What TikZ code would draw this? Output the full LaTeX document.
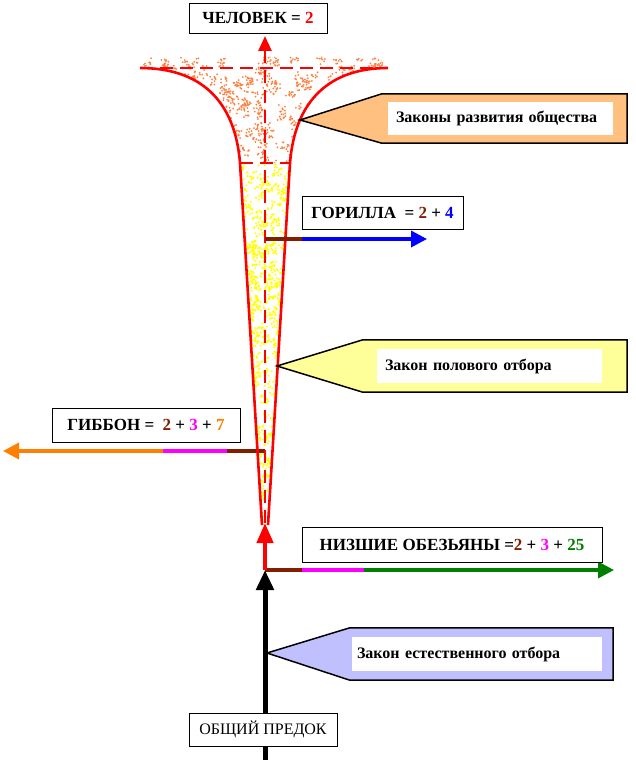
\documentclass[tikz,border=0pt]{standalone}
\usepackage{fontspec}
\setmainfont{Liberation Serif}
\usetikzlibrary{arrows.meta,calc}
\definecolor{stemBrown}{HTML}{802000}
\definecolor{branchMagenta}{HTML}{FF00FF}
\definecolor{branchGreen}{HTML}{008000}
\definecolor{branchBlue}{HTML}{0000FF}
\definecolor{branchOrange}{HTML}{FF8000}
\definecolor{speckOrange}{HTML}{FF8040}
\definecolor{speckYellow}{HTML}{FFFF00}
\definecolor{calloutOrange}{HTML}{FFC080}
\definecolor{calloutYellow}{HTML}{FFFF99}
\definecolor{calloutLilac}{HTML}{C0C0FF}
\tikzset{
    labelbox/.style={draw=black,fill=white,line width=0.9pt,inner sep=0pt,
        align=center,font=\bfseries\fontsize{17}{19}\selectfont},
    lawtext/.style={fill=white,inner xsep=8pt,inner ysep=0pt,align=left,
        font=\bfseries\fontsize{16}{18}\selectfont},
    lawframe/.style={inner sep=0pt},
    callout/.style={draw=black,line width=1.5pt,line join=miter},
    funnelline/.style={draw=red,line width=2.6pt},
    funneldash/.style={draw=red,line width=2.6pt,dash pattern=on 13pt off 7pt},
    branch/.style={line width=3.5pt},
    branchtip/.style={-{Triangle[length=16pt,width=16pt]}}
}
\begin{document}
\begin{tikzpicture}[x=1pt,y=-1pt]
    \useasboundingbox (0,0) rectangle (635,760);
    % axis points
    \coordinate (base) at (265,760);
    \coordinate (fork) at (265,570);
    \coordinate (conetip) at (265,523);
    \coordinate (top) at (265,36);
    \coordinate (funnelL) at (140,68);
    \coordinate (funnelR) at (388,68);
    \coordinate (neckL) at (240,163);
    \coordinate (neckR) at (290,163);
    \coordinate (coneL) at (262,525);
    \coordinate (coneR) at (268,525);
    % speckles
    \pgfmathsetseed{11}
    \begin{scope}
        \clip (funnelL) -- (150,57) -- (378,57) -- (funnelR)
            .. controls (330,68) and (295,100) .. (neckR) -- (neckL)
            .. controls (235,100) and (200,68) .. (funnelL);
        \foreach \i in {1,...,320} {
            \pgfmathsetmacro\cx{140+248*rnd}
            \pgfmathsetmacro\cy{57+106*rnd}
            \foreach \j in {1,...,6}
                \fill[speckOrange] (\cx+4*rand,\cy+4*rand) circle (1pt);
        }
    \end{scope}
    \begin{scope}
        \clip (neckL) -- (neckR) -- (coneR) -- (coneL) -- cycle;
        \foreach \i in {1,...,320} {
            \pgfmathsetmacro\cx{238+54*rnd}
            \pgfmathsetmacro\cy{163+362*rnd}
            \foreach \j in {1,...,6}
                \fill[speckYellow] (\cx+4*rand,\cy+4*rand) circle (1.1pt);
        }
    \end{scope}
    % gibbon branch (under the cone)
    \coordinate (gibbonfork) at (265,451);
    \coordinate (gibbonA) at (227,451);
    \coordinate (gibbonB) at (163,451);
    \coordinate (gibbonend) at (3,451);
    \draw[branch,stemBrown] (gibbonfork) -- (gibbonA);
    \draw[branch,branchMagenta] (gibbonA) -- (gibbonB);
    \draw[branch,branchOrange,branchtip] (gibbonB) -- (gibbonend);
    % funnel and cone
    \draw[funnelline] (funnelL) .. controls (200,68) and (235,100) .. (neckL);
    \draw[funnelline] (funnelR) .. controls (330,68) and (295,100) .. (neckR);
    \draw[funneldash] (funnelL) -- (funnelR);
    \draw[funneldash] (neckL) -- (neckR);
    \draw[funnelline] (neckL) -- (coneL);
    \draw[funnelline] (neckR) -- (coneR);
    \draw[funneldash,-{Triangle[length=15pt,width=13pt]}] (conetip) -- (top);
    % gorilla branch
    \coordinate (gorillafork) at (265,239);
    \coordinate (gorillaA) at (302,239);
    \coordinate (gorillaend) at (427,239);
    \draw[branch,stemBrown] (gorillafork) -- (gorillaA);
    \draw[branch,branchBlue,branchtip] (gorillaA) -- (gorillaend);
    % lower monkeys branch
    \coordinate (lowA) at (302,570);
    \coordinate (lowB) at (364,570);
    \coordinate (lowend) at (614,570);
    \draw[branch,stemBrown] (fork) -- (lowA);
    \draw[branch,branchMagenta] (lowA) -- (lowB);
    \draw[branch,branchGreen,branchtip] (lowB) -- (lowend);
    % stem
    \draw[line width=4.5pt,red,-{Triangle[length=20pt,width=16pt]}] (fork) -- (conetip);
    \draw[line width=5pt,black,-{Triangle[length=20pt,width=17pt]}] (base) -- (fork);
    % labels
    \node[labelbox,minimum width=138pt,minimum height=30pt] (man) at (258,18)
        {ЧЕЛОВЕК = \textcolor{red}{2}};
    \node[labelbox,minimum width=161pt,minimum height=33pt] (gorilla) at (382.5,212.5)
        {ГОРИЛЛА~~= \textcolor{stemBrown}{2} + \textcolor{branchBlue}{4}};
    \node[labelbox,minimum width=188pt,minimum height=34pt] (gibbon) at (146,425)
        {ГИББОН = ~\textcolor{stemBrown}{2} + \textcolor{branchMagenta}{3} + \textcolor{branchOrange}{7}};
    \node[labelbox,minimum width=300pt,minimum height=35pt] (lowmonkeys) at (452,544.5)
        {НИЗШИЕ ОБЕЗЬЯНЫ =\textcolor{stemBrown}{2} + \textcolor{branchMagenta}{3} + \textcolor{branchGreen}{25}};
    \node[labelbox,font=\fontsize{16}{18}\selectfont,minimum width=148pt,minimum height=33pt]
        (ancestor) at (263,729.5) {ОБЩИЙ ПРЕДОК};
    % callouts
    \coordinate (societytip) at (300,120);
    \node[lawframe,minimum width=245pt,minimum height=49pt] (societyframe) at (504.5,118.5) {};
    \draw[callout,fill=calloutOrange] (societytip) -- (societyframe.north west)
        -- (societyframe.north east) -- (societyframe.south east)
        -- (societyframe.south west) -- cycle;
    \node[lawtext,text width=209pt,minimum height=33pt] (society) at (500.5,118.5)
        {Законы развития общества};
    \coordinate (sexseltip) at (277,366);
    \node[lawframe,minimum width=264pt,minimum height=52pt] (sexselframe) at (495,366) {};
    \draw[callout,fill=calloutYellow] (sexseltip) -- (sexselframe.north west)
        -- (sexselframe.north east) -- (sexselframe.south east)
        -- (sexselframe.south west) -- cycle;
    \node[lawtext,text width=209pt,minimum height=34pt] (sexsel) at (489.5,366)
        {Закон полового отбора};
    \coordinate (natseltip) at (267,653);
    \node[lawframe,minimum width=263pt,minimum height=52pt] (natselframe) at (481.5,654) {};
    \draw[callout,fill=calloutLilac] (natseltip) -- (natselframe.north west)
        -- (natselframe.north east) -- (natselframe.south east)
        -- (natselframe.south west) -- cycle;
    \node[lawtext,inner xsep=5pt,text width=240pt,minimum height=34pt] (natsel) at (477,654)
        {Закон естественного отбора};
\end{tikzpicture}
\end{document}
